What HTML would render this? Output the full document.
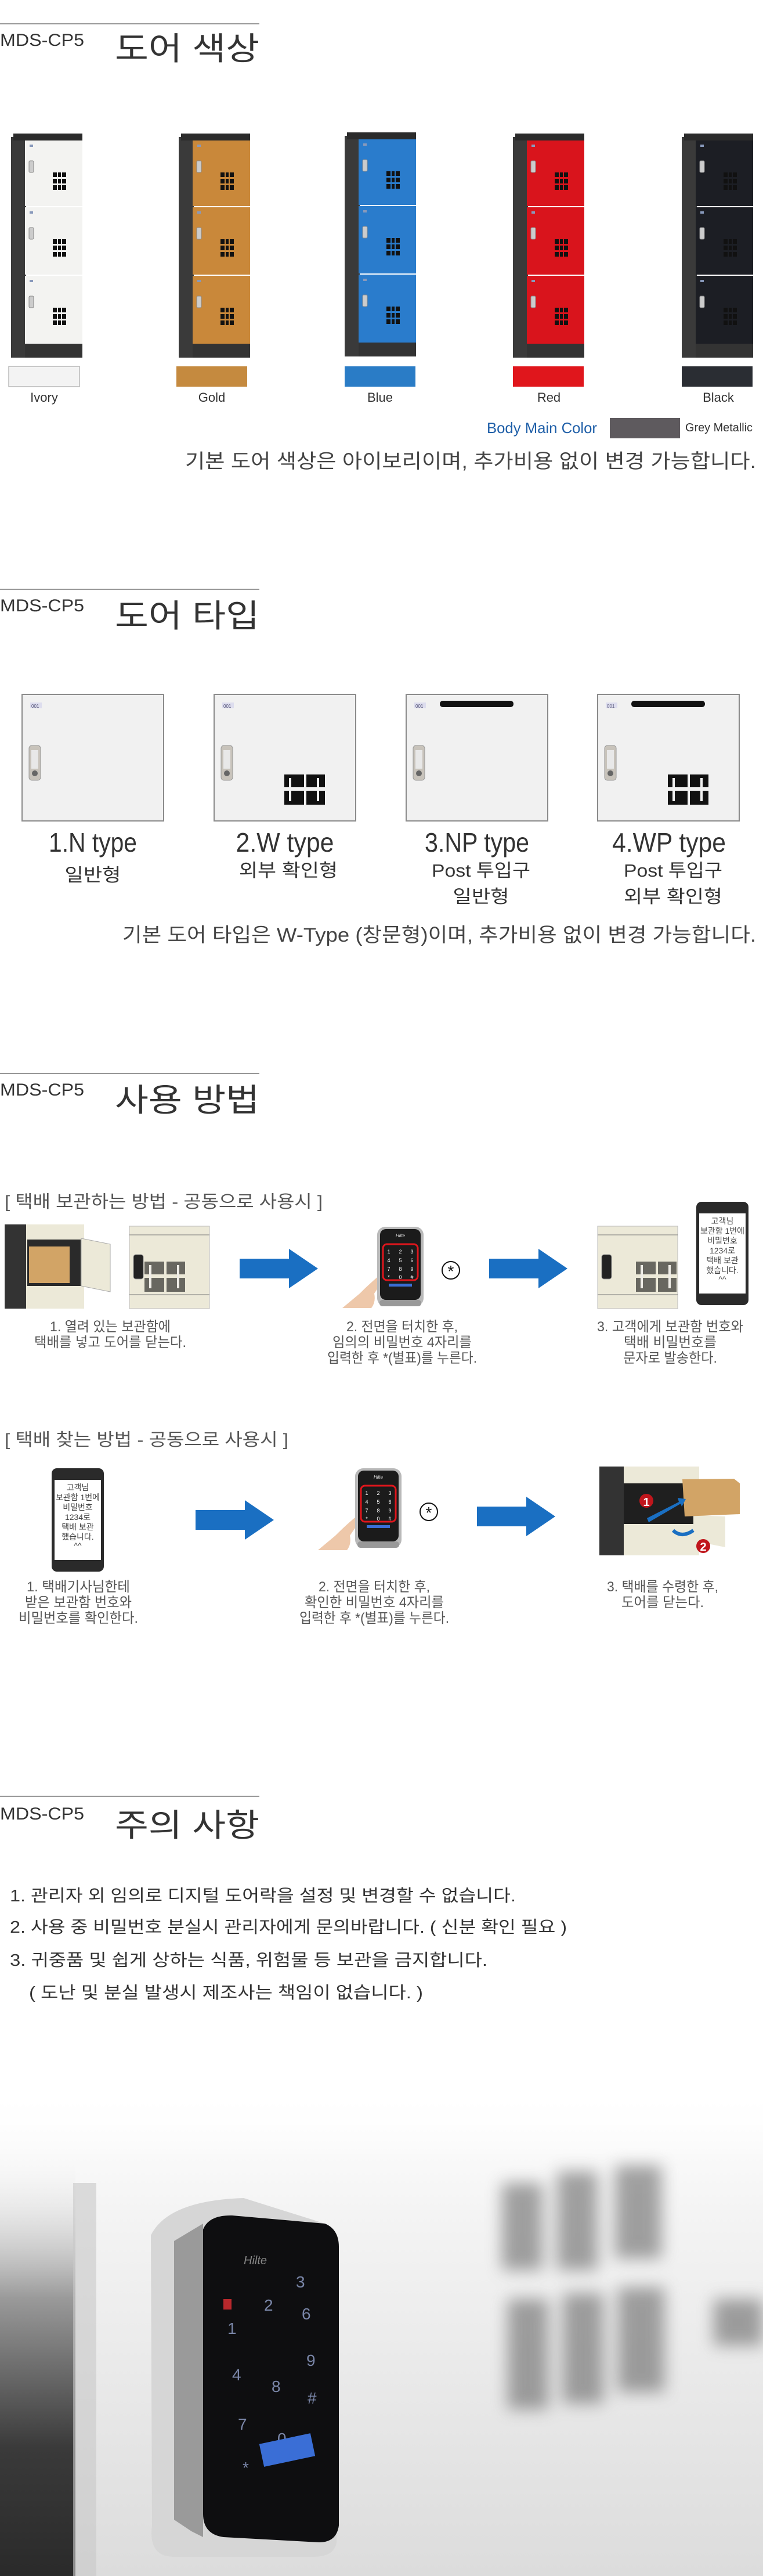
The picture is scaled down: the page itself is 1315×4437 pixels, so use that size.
<!DOCTYPE html>
<html><head><meta charset="utf-8">
<style>
html,body{margin:0;padding:0;background:#fff;}
svg{display:block;}
text{font-family:"Liberation Sans","Noto Sans CJK KR",sans-serif;}
.d{fill:var(--c);}
</style></head>
<body>
<svg width="1315" height="4437" viewBox="0 0 1315 4437" xmlns="http://www.w3.org/2000/svg">
<defs>
  <g id="pat">
    <rect x="0" y="0" width="7" height="8" fill="#111"/><rect x="9" y="0" width="5" height="8" fill="#111"/><rect x="16" y="0" width="7" height="8" fill="#111"/>
    <rect x="0" y="11" width="7" height="8" fill="#111"/><rect x="9" y="11" width="5" height="8" fill="#111"/><rect x="16" y="11" width="7" height="8" fill="#111"/>
    <rect x="0" y="22" width="7" height="8" fill="#111"/><rect x="9" y="22" width="5" height="8" fill="#111"/><rect x="16" y="22" width="7" height="8" fill="#111"/>
  </g>
  <g id="door1">
    <rect x="32" y="7" width="6" height="4" fill="#8899bb"/>
    <rect x="31" y="35" width="8" height="20" rx="2" fill="#ccc" stroke="#888"/>
    <use href="#pat" x="72" y="55"/>
  </g>
  <g id="locker">
    <rect x="0" y="6" width="26" height="380" fill="#3a3a3a"/>
    <rect x="4" y="0" width="119" height="12" fill="#2b2b2b"/>
    <rect x="24" y="12" width="99" height="113" class="d"/>
    <rect x="24" y="127" width="99" height="116" class="d"/>
    <rect x="24" y="245" width="99" height="117" class="d"/>
    <rect x="24" y="362" width="99" height="24" fill="#333"/>
    <use href="#door1" y="12"/><use href="#door1" y="127"/><use href="#door1" y="245"/>
  </g>
  <g id="tdoor">
    <rect x="0" y="0" width="244" height="218" fill="#f1f1f1" stroke="#8a8a8a" stroke-width="2"/>
    <rect x="14" y="14" width="20" height="10" fill="#dde"/>
    <text x="16" y="23" font-size="8" fill="#557">001</text>
    <rect x="12" y="88" width="20" height="60" rx="5" fill="#c8c3bb" stroke="#999"/>
    <rect x="16" y="96" width="12" height="32" fill="#e8e8e8"/>
    <circle cx="22" cy="136" r="5" fill="#666"/>
  </g>
  <g id="win">
    <rect x="0" y="0" width="34" height="22" fill="#111"/><rect x="38" y="0" width="32" height="22" fill="#111"/>
    <rect x="0" y="28" width="34" height="24" fill="#111"/><rect x="38" y="28" width="32" height="24" fill="#111"/>
    <rect x="8" y="6" width="4" height="40" fill="#f1f1f1"/><rect x="56" y="6" width="4" height="40" fill="#f1f1f1"/>
  </g>
  <g id="keypad">
    <rect x="0" y="0" width="80" height="137" rx="14" fill="#b9b9b9"/>
    <rect x="5" y="4" width="70" height="122" rx="10" fill="#1b1b1b"/>
    <rect x="10" y="30" width="60" height="62" rx="7" fill="none" stroke="#e0161c" stroke-width="3"/>
    <text x="40" y="18" font-size="8" fill="#ddd" text-anchor="middle" font-style="italic">Hilte</text>
    <g font-size="9" fill="#fff" text-anchor="middle">
      <text x="20" y="46">1</text><text x="40" y="46">2</text><text x="60" y="46">3</text>
      <text x="20" y="61">4</text><text x="40" y="61">5</text><text x="60" y="61">6</text>
      <text x="20" y="76">7</text><text x="40" y="76">8</text><text x="60" y="76">9</text>
      <text x="20" y="90">*</text><text x="40" y="90">0</text><text x="60" y="90">#</text>
    </g>
    <rect x="20" y="98" width="40" height="5" fill="#3a6ed6"/>
    <rect x="4" y="126" width="72" height="11" rx="5" fill="#999"/>
  </g>
  <g id="hand">
    <path d="M0 70 L30 45 Q55 20 75 5 Q82 2 80 10 Q65 30 55 45 Q58 60 50 70 Z" fill="#eec8aa"/>
  </g>
  <g id="phone">
    <rect x="0" y="0" width="90" height="178" rx="9" fill="#2a2a2a"/>
    <rect x="5" y="20" width="80" height="138" fill="#fff"/>
  </g>
  <g id="star"><circle cx="0" cy="0" r="15" fill="#fff" stroke="#111" stroke-width="2"/><text x="0" y="11" font-size="28" text-anchor="middle" fill="#111">*</text></g>
  <g id="arrow"><polygon points="0,-17 85,-17 85,-34 135,0 85,34 85,17 0,17" fill="#1a6fc2"/></g>
  <linearGradient id="bg4" x1="0" y1="0" x2="0" y2="1">
    <stop offset="0" stop-color="#fff"/><stop offset="0.25" stop-color="#f4f4f4"/><stop offset="1" stop-color="#dcdcdc"/>
  </linearGradient>
  <linearGradient id="left4" x1="0" y1="0" x2="0" y2="1">
    <stop offset="0" stop-color="#fff" stop-opacity="0"/><stop offset="0.35" stop-color="#9a9a9a"/><stop offset="0.7" stop-color="#3a3a3a"/><stop offset="1" stop-color="#2a2a2a"/>
  </linearGradient>
  <linearGradient id="top4" x1="0" y1="0" x2="0" y2="1">
    <stop offset="0" stop-color="#fff"/><stop offset="1" stop-color="#fff" stop-opacity="0"/>
  </linearGradient>
  <filter id="blur" x="-20%" y="-20%" width="140%" height="140%"><feGaussianBlur stdDeviation="14"/></filter>
</defs>

<!-- Section 1 -->
<line x1="0" y1="41" x2="447" y2="41" stroke="#777" stroke-width="1.5"/>
<text x="0" y="79" font-size="30" fill="#333" textLength="145" lengthAdjust="spacingAndGlyphs">MDS-CP5</text>
<text x="198" y="103" font-size="55" fill="#333" textLength="249" lengthAdjust="spacingAndGlyphs">도어 색상</text>

<use href="#locker" x="19" y="230" style="--c:#f3f3f1"/>
<use href="#locker" x="308" y="230" style="--c:#c9883a"/>
<use href="#locker" x="594" y="228" style="--c:#2a7ccc"/>
<use href="#locker" x="884" y="230" style="--c:#d9141c"/>
<use href="#locker" x="1175" y="230" style="--c:#1c1e24"/>

<rect x="15" y="631" width="122" height="35" fill="#f3f3f3" stroke="#999"/>
<rect x="304" y="631" width="122" height="35" fill="#c58a3f"/>
<rect x="594" y="631" width="122" height="35" fill="#2a7cc6"/>
<rect x="884" y="631" width="122" height="35" fill="#e0161c"/>
<rect x="1175" y="631" width="122" height="35" fill="#2a2d33"/>
<g font-size="22" fill="#333" text-anchor="middle">
<text x="76" y="692">Ivory</text><text x="365" y="692">Gold</text><text x="655" y="692">Blue</text><text x="946" y="692">Red</text><text x="1238" y="692">Black</text>
</g>
<text x="839" y="746" font-size="26" fill="#1f5fa8" textLength="190" lengthAdjust="spacingAndGlyphs">Body Main Color</text>
<rect x="1051" y="720" width="121" height="35" fill="#5e5a5e"/>
<text x="1181" y="743" font-size="20" fill="#333" textLength="116" lengthAdjust="spacingAndGlyphs">Grey Metallic</text>
<text x="319" y="806" font-size="34" fill="#444" textLength="984" lengthAdjust="spacingAndGlyphs">기본 도어 색상은 아이보리이며, 추가비용 없이 변경 가능합니다.</text>

<!-- Section 2 -->
<line x1="0" y1="1015" x2="447" y2="1015" stroke="#777" stroke-width="1.5"/>
<text x="0" y="1053" font-size="30" fill="#333" textLength="145" lengthAdjust="spacingAndGlyphs">MDS-CP5</text>
<text x="198" y="1080" font-size="55" fill="#333" textLength="249" lengthAdjust="spacingAndGlyphs">도어 타입</text>

<use href="#tdoor" x="38" y="1196"/>
<use href="#tdoor" x="369" y="1196"/><use href="#win" x="490" y="1334"/>
<use href="#tdoor" x="700" y="1196"/><rect x="758" y="1207" width="127" height="11" rx="5" fill="#111"/>
<use href="#tdoor" x="1030" y="1196"/><rect x="1088" y="1207" width="127" height="11" rx="5" fill="#111"/><use href="#win" x="1151" y="1334"/>

<g font-size="46" fill="#333" text-anchor="middle">
<text x="160" y="1467" textLength="152" lengthAdjust="spacingAndGlyphs">1.N type</text>
<text x="491" y="1467" textLength="169" lengthAdjust="spacingAndGlyphs">2.W type</text>
<text x="822" y="1467" textLength="180" lengthAdjust="spacingAndGlyphs">3.NP type</text>
<text x="1153" y="1467" textLength="196" lengthAdjust="spacingAndGlyphs">4.WP type</text>
</g>
<g font-size="31" fill="#333" text-anchor="middle">
<text x="160" y="1518" textLength="97" lengthAdjust="spacingAndGlyphs">일반형</text>
<text x="497" y="1510" textLength="170" lengthAdjust="spacingAndGlyphs">외부 확인형</text>
<text x="829" y="1510" textLength="170" lengthAdjust="spacingAndGlyphs">Post 투입구</text>
<text x="829" y="1555" textLength="97" lengthAdjust="spacingAndGlyphs">일반형</text>
<text x="1160" y="1510" textLength="170" lengthAdjust="spacingAndGlyphs">Post 투입구</text>
<text x="1160" y="1555" textLength="170" lengthAdjust="spacingAndGlyphs">외부 확인형</text>
</g>
<text x="211" y="1622" font-size="34" fill="#444" textLength="1092" lengthAdjust="spacingAndGlyphs">기본 도어 타입은 W-Type (창문형)이며, 추가비용 없이 변경 가능합니다.</text>

<!-- Section 3 -->
<line x1="0" y1="1849" x2="447" y2="1849" stroke="#777" stroke-width="1.5"/>
<text x="0" y="1887" font-size="30" fill="#333" textLength="145" lengthAdjust="spacingAndGlyphs">MDS-CP5</text>
<text x="198" y="1914" font-size="55" fill="#333" textLength="249" lengthAdjust="spacingAndGlyphs">사용 방법</text>

<text x="8" y="2080" font-size="30" fill="#555" textLength="548" lengthAdjust="spacingAndGlyphs">[ 택배 보관하는 방법 - 공동으로 사용시 ]</text>

<rect x="8" y="2109" width="40" height="145" fill="#333"/>
<rect x="45" y="2109" width="100" height="145" fill="#ece9d8"/>
<rect x="47" y="2135" width="92" height="80" fill="#2a2a2a"/>
<rect x="50" y="2147" width="70" height="63" fill="#d2a466"/>
<polygon points="140,2133 190,2143 190,2225 140,2215" fill="#ece9d8" stroke="#aaa"/>
<rect x="223" y="2112" width="138" height="142" fill="#ece9d8" stroke="#bbb"/>
<line x1="223" y1="2127" x2="361" y2="2127" stroke="#777"/><line x1="223" y1="2230" x2="361" y2="2230" stroke="#777"/>
<rect x="230" y="2161" width="17" height="42" rx="4" fill="#222" stroke="#999"/>
<g opacity="0.6"><use href="#win" x="249" y="2173"/></g>
<use href="#arrow" x="413" y="2185"/>
<use href="#hand" x="590" y="2183"/>
<use href="#keypad" x="650" y="2113"/>
<use href="#star" x="777" y="2188"/>
<use href="#arrow" x="843" y="2185"/>
<rect x="1030" y="2112" width="138" height="142" fill="#ece9d8" stroke="#bbb"/>
<line x1="1030" y1="2127" x2="1168" y2="2127" stroke="#777"/><line x1="1030" y1="2230" x2="1168" y2="2230" stroke="#777"/>
<rect x="1037" y="2161" width="17" height="42" rx="4" fill="#222" stroke="#999"/>
<g opacity="0.6"><use href="#win" x="1096" y="2173"/></g>
<use href="#phone" x="1200" y="2070"/>
<g font-size="14" fill="#444" text-anchor="middle">
<text x="1245" y="2108">고객님</text><text x="1245" y="2125">보관함 1번에</text><text x="1245" y="2142">비밀번호</text><text x="1245" y="2159">1234로</text><text x="1245" y="2176">택배 보관</text><text x="1245" y="2193">했습니다.</text><text x="1245" y="2208">^^</text>
</g>
<g font-size="24" fill="#555" text-anchor="middle">
<text x="190" y="2293" textLength="208" lengthAdjust="spacingAndGlyphs">1. 열려 있는 보관함에</text>
<text x="190" y="2320" textLength="262" lengthAdjust="spacingAndGlyphs">택배를 넣고 도어를 닫는다.</text>
<text x="693" y="2293" textLength="192" lengthAdjust="spacingAndGlyphs">2. 전면을 터치한 후,</text>
<text x="693" y="2320" textLength="240" lengthAdjust="spacingAndGlyphs">임의의 비밀번호 4자리를</text>
<text x="693" y="2347" textLength="258" lengthAdjust="spacingAndGlyphs">입력한 후 *(별표)를 누른다.</text>
<text x="1155" y="2293" textLength="252" lengthAdjust="spacingAndGlyphs">3. 고객에게 보관함 번호와</text>
<text x="1155" y="2320" textLength="160" lengthAdjust="spacingAndGlyphs">택배 비밀번호를</text>
<text x="1155" y="2347" textLength="162" lengthAdjust="spacingAndGlyphs">문자로 발송한다.</text>
</g>

<text x="8" y="2490" font-size="30" fill="#555" textLength="489" lengthAdjust="spacingAndGlyphs">[ 택배 찾는 방법 - 공동으로 사용시 ]</text>
<use href="#phone" x="89" y="2529"/>
<g font-size="14" fill="#444" text-anchor="middle">
<text x="134" y="2567">고객님</text><text x="134" y="2584">보관함 1번에</text><text x="134" y="2601">비밀번호</text><text x="134" y="2618">1234로</text><text x="134" y="2635">택배 보관</text><text x="134" y="2652">했습니다.</text><text x="134" y="2667">^^</text>
</g>
<use href="#arrow" x="337" y="2618"/>
<use href="#hand" x="548" y="2600"/>
<use href="#keypad" x="612" y="2529"/>
<use href="#star" x="739" y="2604"/>
<use href="#arrow" x="822" y="2612"/>
<rect x="1033" y="2526" width="45" height="153" fill="#333"/>
<rect x="1075" y="2526" width="130" height="153" fill="#ece9d8"/>
<rect x="1075" y="2555" width="120" height="70" fill="#1f1f1f"/>
<polygon points="1200,2610 1250,2612 1250,2665 1200,2655" fill="#ece9d8"/>
<polygon points="1176,2548 1265,2547 1275,2555 1275,2608 1180,2612" fill="#d2a466"/>
<circle cx="1114" cy="2585" r="12" fill="#c0161c"/><text x="1114" y="2594" font-size="20" fill="#fff" text-anchor="middle" font-weight="bold">1</text>
<polygon points="1115,2615 1170,2587 1168,2580 1182,2582 1175,2595 1173,2590 1118,2622" fill="#1a6fc2"/>
<path d="M1160 2636 Q1175 2650 1195 2636" stroke="#1a6fc2" stroke-width="6" fill="none"/>
<circle cx="1212" cy="2663" r="12" fill="#c0161c"/><text x="1212" y="2671" font-size="20" fill="#fff" text-anchor="middle" font-weight="bold">2</text>
<g font-size="24" fill="#555" text-anchor="middle">
<text x="135" y="2741" textLength="178" lengthAdjust="spacingAndGlyphs">1. 택배기사님한테</text>
<text x="135" y="2768" textLength="184" lengthAdjust="spacingAndGlyphs">받은 보관함 번호와</text>
<text x="135" y="2795" textLength="206" lengthAdjust="spacingAndGlyphs">비밀번호를 확인한다.</text>
<text x="645" y="2741" textLength="192" lengthAdjust="spacingAndGlyphs">2. 전면을 터치한 후,</text>
<text x="645" y="2768" textLength="240" lengthAdjust="spacingAndGlyphs">확인한 비밀번호 4자리를</text>
<text x="645" y="2795" textLength="258" lengthAdjust="spacingAndGlyphs">입력한 후 *(별표)를 누른다.</text>
<text x="1142" y="2741" textLength="192" lengthAdjust="spacingAndGlyphs">3. 택배를 수령한 후,</text>
<text x="1142" y="2768" textLength="142" lengthAdjust="spacingAndGlyphs">도어를 닫는다.</text>
</g>

<!-- Section 4 -->
<line x1="0" y1="3094" x2="447" y2="3094" stroke="#777" stroke-width="1.5"/>
<text x="0" y="3134" font-size="30" fill="#333" textLength="145" lengthAdjust="spacingAndGlyphs">MDS-CP5</text>
<text x="198" y="3163" font-size="55" fill="#333" textLength="249" lengthAdjust="spacingAndGlyphs">주의 사항</text>
<g font-size="29" fill="#333">
<text x="17" y="3275" textLength="872" lengthAdjust="spacingAndGlyphs">1. 관리자 외 임의로 디지털 도어락을 설정 및 변경할 수 없습니다.</text>
<text x="17" y="3329" textLength="960" lengthAdjust="spacingAndGlyphs">2. 사용 중 비밀번호 분실시 관리자에게 문의바랍니다. ( 신분 확인 필요 )</text>
<text x="17" y="3386" textLength="823" lengthAdjust="spacingAndGlyphs">3. 귀중품 및 쉽게 상하는 식품, 위험물 등 보관을 금지합니다.</text>
<text x="50" y="3442" textLength="679" lengthAdjust="spacingAndGlyphs">( 도난 및 분실 발생시 제조사는 책임이 없습니다. )</text>
</g>

<!-- bottom photo -->
<rect x="0" y="3600" width="1315" height="837" fill="url(#bg4)"/>
<rect x="0" y="3700" width="130" height="737" fill="url(#left4)"/>
<rect x="126" y="3760" width="40" height="677" fill="#c8c8c8" opacity="0.6"/>
<g filter="url(#blur)" fill="#666" opacity="0.6">
  <rect x="865" y="3760" width="70" height="150"/><rect x="960" y="3740" width="70" height="170"/><rect x="1060" y="3730" width="80" height="160"/>
  <rect x="875" y="3960" width="70" height="190"/><rect x="970" y="3950" width="70" height="190"/><rect x="1065" y="3940" width="80" height="180"/>
  <rect x="1230" y="3960" width="85" height="80"/>
</g>
<rect x="0" y="3600" width="1315" height="120" fill="url(#top4)"/>
<path d="M260 3850 Q290 3790 420 3786 L560 3830 Q580 3840 580 3870 L580 4380 Q575 4404 540 4404 L300 4404 Q255 4404 262 4350 Z" fill="#d6d6d6"/>
<path d="M300 3860 L350 3830 L350 4370 L330 4360 L300 4340 Z" fill="#9a9a9a"/>
<path d="M350 3840 Q360 3815 400 3816 L560 3830 Q584 3840 584 3870 L584 4350 Q580 4379 550 4379 L385 4370 Q350 4365 350 4330 Z" fill="#0e0e10"/>
<g font-size="28" fill="#7a86a8" font-family="Liberation Sans">
<text x="510" y="3940">3</text><text x="455" y="3980">2</text><text x="520" y="3995">6</text>
<text x="392" y="4020">1</text><text x="528" y="4075">9</text><text x="400" y="4100">4</text><text x="468" y="4120">8</text>
<text x="410" y="4185">7</text><text x="478" y="4210">0</text><text x="418" y="4260">*</text><text x="530" y="4140">#</text>
</g>
<text x="420" y="3900" font-size="20" fill="#888" font-style="italic">Hilte</text>
<rect x="450" y="4200" width="90" height="40" fill="#3a6ed6" transform="rotate(-12 495 4220)"/>
<rect x="385" y="3960" width="14" height="18" fill="#b8282c"/>
</svg>
</body></html>
